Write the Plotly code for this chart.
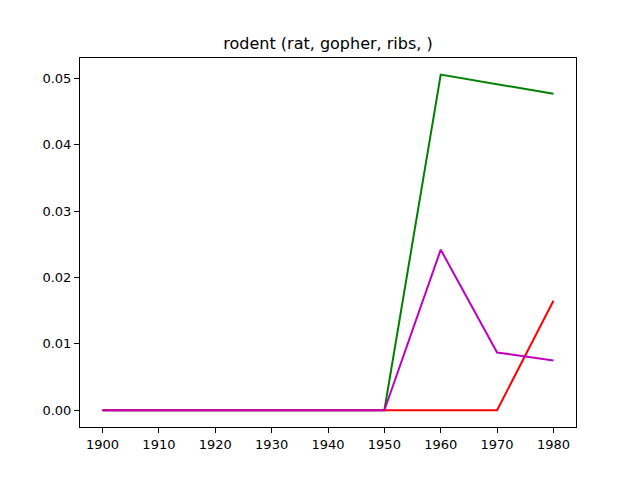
import plotly.graph_objects as go

years = [1900, 1910, 1920, 1930, 1940, 1950, 1960, 1970, 1980]
rat = [0, 0, 0, 0, 0, 0, 0.0506, 0.0491, 0.0477]
ribs = [0, 0, 0, 0, 0, 0, 0, 0, 0.0165]
gopher = [0, 0, 0, 0, 0, 0, 0.0242, 0.0087, 0.0075]

series = [
    ("rat", rat, "#008000"),
    ("ribs", ribs, "#ff0000"),
    ("gopher", gopher, "#bf00bf"),
]

fig = go.Figure()
for name, vals, col in series:
    fig.add_trace(go.Scatter(x=years, y=vals, mode="lines", name=name,
                             line=dict(color=col, width=2)))

axis_style = dict(showgrid=False, zeroline=False, showline=True, mirror=True,
                  linecolor="black", linewidth=1, ticks="outside", ticklen=5,
                  tickcolor="black", tickfont=dict(size=13, color="black"))

fig.update_layout(
    width=640, height=480,
    title=dict(text="rodent (rat, gopher, ribs, )", x=0.5, xanchor="center",
               y=0.927, yanchor="middle", font=dict(size=16, color="black")),
    font=dict(family="DejaVu Sans"),
    showlegend=False,
    plot_bgcolor="white", paper_bgcolor="white",
    margin=dict(l=72, r=72, t=50, b=61),
    xaxis=dict(range=[1896, 1984], tickvals=years, **axis_style),
    yaxis=dict(range=[-0.00253, 0.0531], tickvals=[0, 0.01, 0.02, 0.03, 0.04, 0.05],
               tickformat=".2f", **axis_style),
)

fig.write_html("out.html")
